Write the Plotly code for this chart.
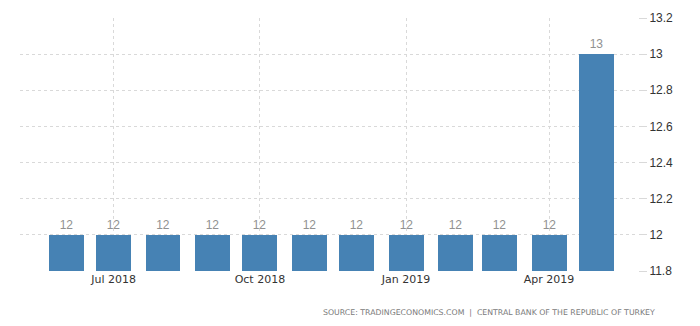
import plotly.graph_objects as go

months = ["2018-06-01", "2018-07-01", "2018-08-01", "2018-09-01", "2018-10-01", "2018-11-01",
          "2018-12-01", "2019-01-01", "2019-02-01", "2019-03-01", "2019-04-01", "2019-05-01"]
values = [12, 12, 12, 12, 12, 12, 12, 12, 12, 12, 12, 13]
labels = ["12", "12", "12", "12", "12", "12", "12", "12", "12", "12", "12", "13"]
x_ticks = ["2018-07-01", "2018-10-01", "2019-01-01", "2019-04-01"]
x_tick_text = ["Jul 2018", "Oct 2018", "Jan 2019", "Apr 2019"]
y_ticks = [11.8, 12, 12.2, 12.4, 12.6, 12.8, 13, 13.2]
y_tick_text = ["11.8", "12", "12.2", "12.4", "12.6", "12.8", "13", "13.2"]

fig = go.Figure()
fig.add_trace(go.Bar(
    x=months, y=values, text=labels, textposition="outside", cliponaxis=False,
    textfont=dict(family="Liberation Sans, Arial", size=12, color="#919191"),
    marker=dict(color="#4682b4", line=dict(width=0)),
    width=22 * 86400000,
    hoverinfo="skip",
))

fig.update_layout(
    width=700, height=326,
    margin=dict(l=20, r=62, t=18, b=55),
    paper_bgcolor="white", plot_bgcolor="white",
    showlegend=False,
    bargap=0,
    xaxis=dict(
        type="date", range=["2018-05-03", "2019-05-27"],
        tickvals=x_ticks, ticktext=x_tick_text,
        showgrid=True, gridcolor="#d9d9d9", griddash="dot", gridwidth=1,
        zeroline=False, showline=False, ticks="",
        tickfont=dict(family="DejaVu Sans, Verdana", size=11, color="#333333"),
    ),
    yaxis=dict(
        range=[11.8, 13.2], side="right",
        tickvals=y_ticks, ticktext=y_tick_text,
        showgrid=True, gridcolor="#d9d9d9", griddash="dot", gridwidth=1,
        zeroline=False, showline=False, ticks="outside", ticklen=8, tickcolor="#d9d9d9",
        tickfont=dict(family="Liberation Sans, Arial", size=12, color="#333333"),
    ),
    annotations=[dict(
        text="SOURCE: TRADINGECONOMICS.COM  |  CENTRAL BANK OF THE REPUBLIC OF TURKEY",
        xref="paper", yref="paper", x=1.031, y=0, xanchor="right", yanchor="middle",
        yshift=-41, showarrow=False,
        font=dict(family="DejaVu Sans, Verdana", size=7.8, color="#7a7a7a"),
    )],
)

fig.write_html("out.html")
